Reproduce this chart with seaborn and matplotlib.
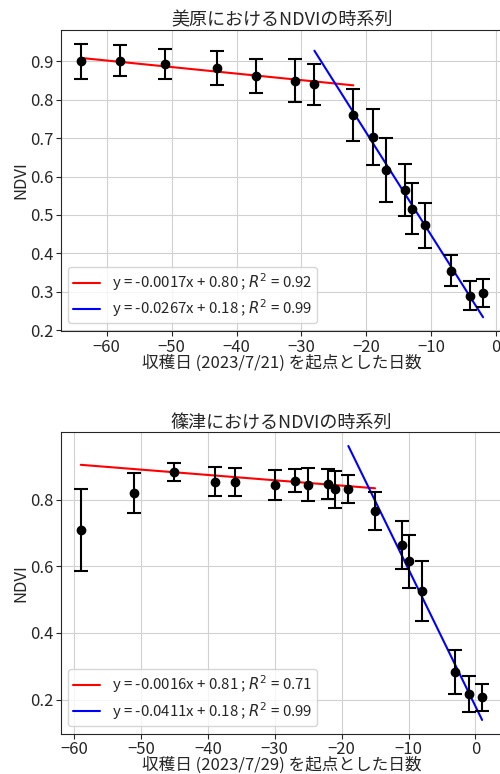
import pandas as pd
import seaborn as sns
import matplotlib.pyplot as plt

# 美原
mihara_days = [-64, -58, -51, -43, -37, -31, -28, -22, -19, -17, -14, -13, -11, -7, -4, -2]
mihara_ndvi = [0.900, 0.902, 0.892, 0.883, 0.862, 0.850, 0.840, 0.760, 0.703, 0.617,
               0.565, 0.516, 0.473, 0.355, 0.290, 0.297]
mihara_err = [0.046, 0.040, 0.039, 0.045, 0.045, 0.057, 0.053, 0.068, 0.074, 0.084,
              0.068, 0.067, 0.059, 0.041, 0.037, 0.036]

# 篠津
shinotsu_days = [-59, -51, -45, -39, -36, -30, -27, -25, -22, -21, -19, -15, -11, -10, -8, -3, -1, 1]
shinotsu_ndvi = [0.709, 0.819, 0.883, 0.854, 0.852, 0.845, 0.857, 0.845, 0.847, 0.831,
                 0.831, 0.766, 0.664, 0.615, 0.526, 0.283, 0.217, 0.207]
shinotsu_err = [0.123, 0.060, 0.028, 0.044, 0.042, 0.045, 0.035, 0.050, 0.044, 0.055,
                0.042, 0.057, 0.072, 0.080, 0.089, 0.065, 0.054, 0.041]

# fitted lines: slope, intercept, R2, x range
mihara_fits = [(-0.0017, 0.80, 0.92, -64, -22, "red"),
               (-0.0267, 0.18, 0.99, -28, -2, "blue")]
shinotsu_fits = [(-0.0016, 0.81, 0.71, -59, -15, "red"),
                 (-0.0411, 0.18, 0.99, -19, 1, "blue")]

sns.set_style("ticks", {"axes.grid": True, "grid.color": ".82"})
plt.rcParams["font.family"] = ["Noto Sans CJK JP", "DejaVu Sans"]
plt.rcParams["xtick.major.size"] = 3.5
plt.rcParams["ytick.major.size"] = 3.5
plt.rcParams["font.size"] = 12
plt.rcParams["axes.unicode_minus"] = True

fig = plt.figure(figsize=(5.0, 7.74), dpi=100)
ax1 = fig.add_axes([0.1214, 0.5724, 0.885, 0.3889])
ax2 = fig.add_axes([0.1214, 0.0521, 0.883, 0.3894])


def draw(ax, days, ndvi, err, fits, title, xlabel):
    for m, b, r2, x0, x1, c in fits:
        line = pd.DataFrame({"x": [x0, x1]})
        line["y"] = m * line["x"] + b
        sns.lineplot(data=line, x="x", y="y", color=c, lw=1.5, ax=ax,
                     label=f"y = {m:.4f}x + {b:.2f} ; $R^2$ = {r2:.2f}")
    ax.errorbar(days, ndvi, yerr=err, fmt="o", color="black", ms=6,
                capsize=5, elinewidth=1.5, capthick=1.5)
    ax.set_title(title, fontsize=13, pad=3)
    ax.set_xlabel(xlabel, fontsize=12, labelpad=-1)
    ax.set_ylabel("NDVI", fontsize=12, labelpad=0)
    ax.tick_params(pad=2)
    ax.legend(loc="lower left", fontsize=10.8, handlelength=1.85,
              borderpad=0.3, labelspacing=0.3)


draw(ax1, mihara_days, mihara_ndvi, mihara_err, mihara_fits,
     "美原におけるNDVIの時系列", "収穫日 (2023/7/21) を起点とした日数")
draw(ax2, shinotsu_days, shinotsu_ndvi, shinotsu_err, shinotsu_fits,
     "篠津におけるNDVIの時系列", "収穫日 (2023/7/29) を起点とした日数")
ax2.set_yticks([0.2, 0.4, 0.6, 0.8])

fig.savefig("out.png", dpi=100)
